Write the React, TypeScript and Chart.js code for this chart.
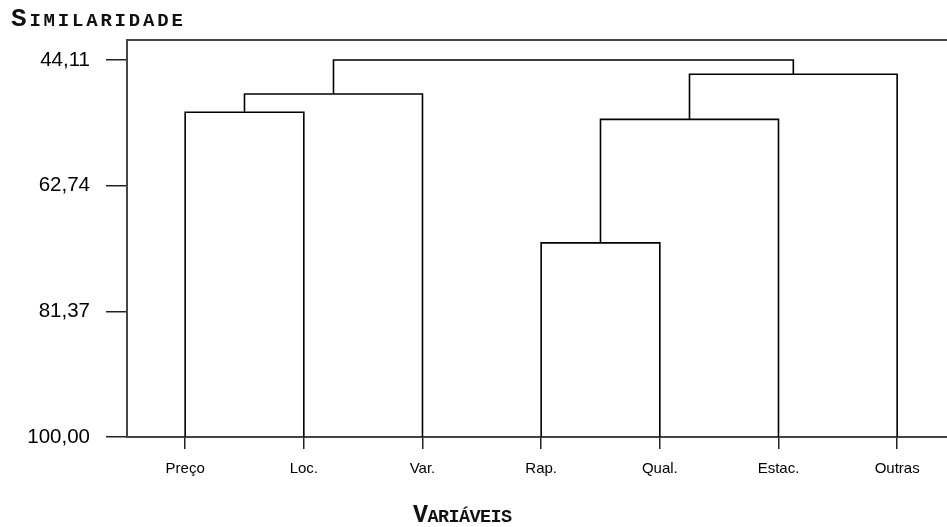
import React, { useEffect, useRef } from "react";
import { Chart, registerables } from "chart.js";

Chart.register(...registerables);

// Leaves of the dendrogram, in display order
const variables = ["Preço", "Loc.", "Var.", "Rap.", "Qual.", "Estac.", "Outras"];
// Agglomeration steps: leaves are 0..6, each merge creates cluster 7, 8, ...
const mergeLeft = [0, 7, 3, 9, 10, 8];
const mergeRight = [1, 2, 4, 5, 6, 11];
const mergeSimilarity = [51.87, 49.15, 71.22, 52.91, 46.23, 44.11];
const similarityTicks = [44.11, 62.74, 81.37, 100.0];
const leafSimilarity = 100;

type Pt = { x: number; y: number };

function buildLinks(): Pt[][] {
  const xs: number[] = variables.map((_, i) => i);
  const hs: number[] = variables.map(() => leafSimilarity);
  const links: Pt[][] = [];
  mergeLeft.forEach((a, k) => {
    const b = mergeRight[k];
    const h = mergeSimilarity[k];
    links.push([
      { x: xs[a], y: hs[a] },
      { x: xs[a], y: h },
      { x: xs[b], y: h },
      { x: xs[b], y: hs[b] },
    ]);
    xs.push((xs[a] + xs[b]) / 2);
    hs.push(h);
  });
  return links;
}

const TITLE_FONT = '"Liberation Mono", "Courier New", monospace';
const TICK_FONT = '"Liberation Sans", Arial, sans-serif';

function drawSmallCaps(
  ctx: CanvasRenderingContext2D,
  text: string,
  x: number,
  y: number,
  big: number,
  small: number,
  spacing: number
) {
  let cx = x;
  for (let i = 0; i < text.length; i++) {
    const ch = text[i];
    ctx.font = `bold ${i === 0 ? big : small}px ${TITLE_FONT}`;
    ctx.fillText(ch, cx, y);
    cx += ctx.measureText(ch).width + spacing;
  }
}

const framePlugin = {
  id: "frameAndTitles",
  afterDraw(chart: any) {
    const { ctx, chartArea } = chart;
    ctx.save();
    ctx.strokeStyle = "#444";
    ctx.lineWidth = 2;
    ctx.beginPath();
    ctx.moveTo(chartArea.left - 1, chartArea.top);
    ctx.lineTo(chartArea.right, chartArea.top);
    ctx.stroke();

    ctx.fillStyle = "#111";
    ctx.textBaseline = "alphabetic";
    ctx.textAlign = "left";
    drawSmallCaps(ctx, "SIMILARIDADE", 11, 26, 26, 19, 2.8);
    drawSmallCaps(ctx, "VARIÁVEIS", 413, 522, 25, 18.5, -0.6);
    ctx.restore();
  },
};

export default function App() {
  const canvasRef = useRef<HTMLCanvasElement | null>(null);

  useEffect(() => {
    if (!canvasRef.current) return;
    const links = buildLinks();
    const chart = new Chart(canvasRef.current, {
      type: "scatter",
      data: {
        datasets: links.map((pts) => ({
          data: pts,
          showLine: true,
          borderColor: "#000",
          borderWidth: 1.6,
          pointRadius: 0,
          tension: 0,
          fill: false,
        })),
      },
      options: {
        animation: false,
        responsive: false,
        layout: { padding: { top: 40, left: 0, right: 0, bottom: 0 } },
        plugins: {
          legend: { display: false },
          tooltip: { enabled: false },
          title: { display: false },
        },
        scales: {
          x: {
            type: "linear",
            min: -0.49,
            max: 6.42,
            afterBuildTicks: (s: any) => {
              s.ticks = variables.map((_, i) => ({ value: i }));
            },
            afterFit: (s: any) => {
              s.height = 90;
            },
            ticks: {
              callback: (v: any) => variables[Math.round(Number(v))] ?? "",
              font: { family: TICK_FONT, size: 15 },
              color: "#000",
              padding: 11,
              autoSkip: false,
              maxRotation: 0,
            },
            grid: {
              drawOnChartArea: false,
              drawTicks: true,
              tickLength: 12,
              color: "#222",
              lineWidth: 1.5,
            },
            border: { display: true, color: "#444", width: 2 },
          },
          y: {
            type: "linear",
            reverse: true,
            min: 41.15,
            max: 100,
            afterBuildTicks: (s: any) => {
              s.ticks = similarityTicks.map((v) => ({ value: v }));
            },
            afterFit: (s: any) => {
              s.width = 127;
            },
            ticks: {
              callback: (v: any) => Number(v).toFixed(2).replace(".", ","),
              font: { family: TICK_FONT, size: 20.5 },
              color: "#000",
              padding: 16,
            },
            grid: {
              drawOnChartArea: false,
              drawTicks: true,
              tickLength: 21,
              color: "#222",
              lineWidth: 1.5,
            },
            border: { display: true, color: "#444", width: 2 },
          },
        },
      },
      plugins: [framePlugin],
    });
    return () => chart.destroy();
  }, []);

  return (
    <div style={{ position: "fixed", left: 0, top: 0, width: 947, height: 527, background: "#fff" }}>
      <canvas ref={canvasRef} width={947} height={527} style={{ display: "block" }} />
    </div>
  );
}
